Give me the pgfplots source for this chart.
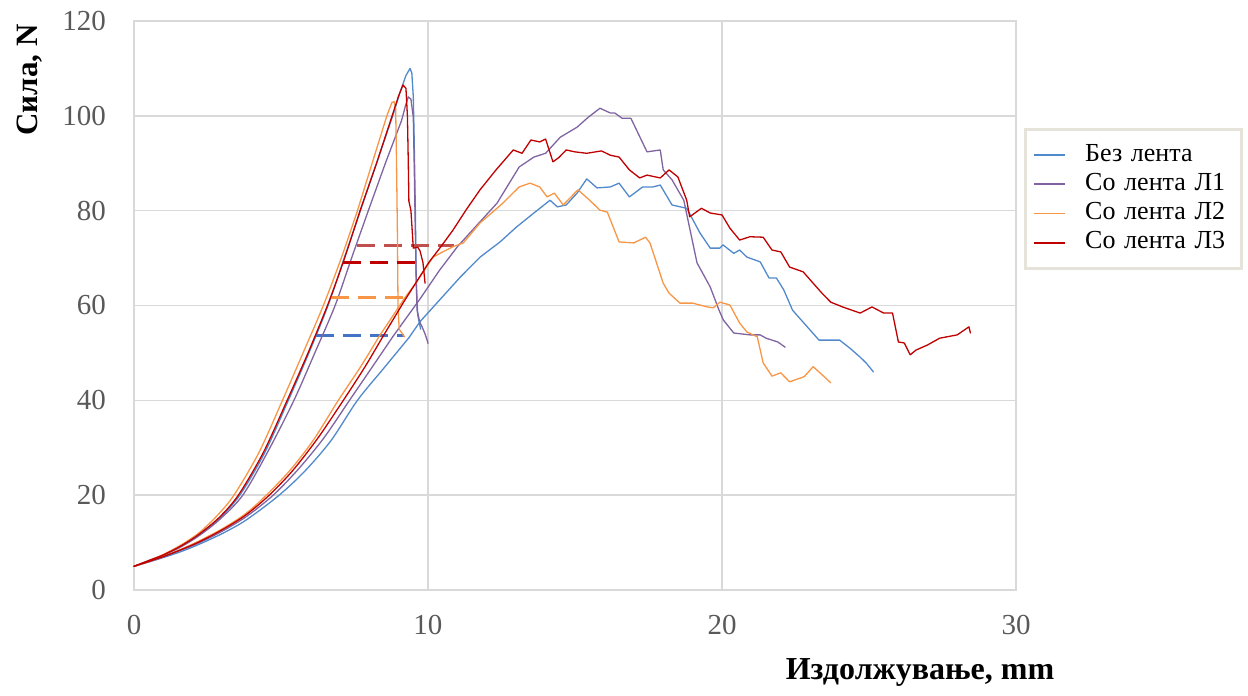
\documentclass[border=0pt]{standalone}
\usepackage{fontspec}
\setmainfont{Liberation Serif}
\usepackage{pgfplots}
\pgfplotsset{compat=1.18}
\definecolor{cblue}{HTML}{5089CC}
\definecolor{cbluedash}{HTML}{4472C4}
\definecolor{cpurple}{HTML}{8064A2}
\definecolor{corange}{HTML}{F79646}
\definecolor{cred}{HTML}{C00000}
\definecolor{cred2}{HTML}{C0504D}
\definecolor{gridgray}{HTML}{D9D9D9}
\definecolor{ticktext}{HTML}{595959}
\definecolor{legborder}{HTML}{E6E4DA}
\begin{document}
\begin{tikzpicture}
\useasboundingbox (0,0) rectangle (624pt,348pt);
\begin{axis}[at={(67pt,53pt)}, anchor=south west, scale only axis,
  width=441pt, height=284.5pt,
  xmin=0, xmax=30, ymin=0, ymax=120,
  xtick={0,10,20,30}, ytick={0,20,...,120},
  grid=major, major grid style={draw=gridgray, line width=0.7pt},
  axis line style={draw=gridgray, line width=0.7pt},
  tick style={draw=none}, major tick length=0pt,
  ticklabel style={font=\fontsize{14.5}{17}\selectfont, text=ticktext},
  /pgf/number format/assume math mode=true,
  yticklabel style={xshift=-10.5pt},
  xticklabel style={yshift=-9pt},
  every axis plot/.append style={line join=round, line cap=round},
  legend style={at={(1.009,0.812)}, anchor=north west, draw=legborder, line width=1.5pt,
    font=\fontsize{13}{15}\selectfont, inner xsep=4pt, inner ysep=5.5pt,
    row sep=0pt, /tikz/column 1/.style={column sep=9.5pt},
    nodes={inner xsep=0pt, inner ysep=1pt, text height=9.3pt, text depth=3.3pt, text width=74pt}},
  legend cell align=left,
  legend image code/.code={\draw[#1, line width=0.9pt, line cap=butt] (0pt,0pt) -- (15.5pt,0pt);},
  clip=false
]
% ---------- Без лента (blue) ----------
\addplot[cblue, line width=0.65pt, smooth] coordinates {
(0,5)(0.5,6.2)(1,7.4)(1.6,9.3)(2.2,11.6)(2.9,15.1)(3.6,20)(4.45,29)(5.25,40)(5.95,50)(6.6,60)(7.15,70)(7.7,80)};
\addlegendentry{Без лента}
\addplot[cblue, line width=0.65pt, forget plot] coordinates {
(7.7,80)(8.25,90)(8.8,100)(9.05,105)(9.25,108.5)(9.39,110)(9.45,109)(9.5,104)(9.53,95)(9.57,80)(9.6,65)(9.65,58)(9.75,55)};
\addplot[cblue, line width=0.65pt, smooth, forget plot] coordinates {
(0,5)(0.5,5.9)(1,6.85)(1.6,8.1)(2.2,9.6)(3,11.9)(3.8,14.7)(4.9,19.8)(5.8,25)(6.7,31.5)(7.6,40)(8.5,46.8)(9.35,53.2)};
\addplot[cblue, line width=0.65pt, forget plot] coordinates {
(9.35,53.2)(9.73,56.6)(10.4,61.2)(11.1,66)(11.77,70.2)(12.45,73.4)(13.0,76.5)(13.6,79.5)(14.15,82.2)(14.4,80.8)(14.7,81.2)(15.07,83.7)(15.4,86.7)(15.75,84.8)(16.2,85)(16.5,85.8)(16.85,82.9)(17.3,85)(17.65,85)(17.9,85.4)(18.3,81.2)(18.8,80.5)(19.25,75.3)(19.6,72.1)(19.93,72.1)(20.03,72.8)(20.4,71)(20.6,71.7)(20.85,70.2)(21.3,69.2)(21.6,65.8)(21.85,65.8)(22.1,63.3)(22.4,59)(22.9,55.5)(23.3,52.7)(24.0,52.7)(24.35,51)(24.7,49.1)(24.9,47.9)(25.15,46)};
\addplot[cbluedash, line width=1.3pt, line cap=butt, dash pattern=on 9pt off 4.5pt, forget plot] coordinates {(6.2,53.7)(9.2,53.7)};
% ---------- Со лента Л1 (purple) ----------
\addplot[cpurple, line width=0.65pt, smooth] coordinates {
(0,5)(0.5,6.1)(1,7.3)(1.6,9.1)(2.2,11.4)(2.9,14.8)(3.7,20)(4.58,29.5)(5.44,40)(6.15,50)(6.84,60)(7.4,70)(7.97,80)};
\addlegendentry{Со лента Л1}
\addplot[cpurple, line width=0.65pt, forget plot] coordinates {
(7.97,80)(8.55,90)(9.1,99)(9.25,102.5)(9.33,104)(9.42,103.5)(9.5,99.7)(9.53,90)(9.56,78.7)(9.6,65)(9.63,59)(9.72,56.5)(9.8,55.5)(9.9,54)(9.97,52.7)(10.0,52)};
\addplot[cpurple, line width=0.65pt, smooth, forget plot] coordinates {
(0,5)(0.5,5.95)(1,7.0)(1.6,8.4)(2.2,9.9)(3,12.4)(3.8,15.4)(4.7,19.8)(5.55,25.2)(6.45,32)(7.33,40)(8.1,47)(8.8,53.4)};
\addplot[cpurple, line width=0.65pt, forget plot] coordinates {
(8.8,53.4)(9.73,61.4)(10.4,67.5)(11.0,72.4)(11.6,76.5)(12.35,81.6)(13.1,89.2)(13.6,91.3)(14.0,92.1)(14.5,95.5)(15.07,97.6)(15.45,99.7)(15.85,101.6)(16.2,100.6)(16.35,100.6)(16.6,99.5)(16.9,99.5)(17.45,92.4)(17.9,92.8)(18.0,88.6)(18.3,86.5)(18.7,82.2)(19.15,69)(19.6,63.9)(19.9,59)(20.05,56.9)(20.4,54.2)(20.95,53.8)(21.3,53.8)(21.5,53.1)(21.9,52.3)(22.15,51.2)};
\addplot[cred2, line width=1.3pt, line cap=butt, dash pattern=on 9pt off 4.5pt, forget plot] coordinates {(7.58,72.6)(10.9,72.6)};
% ---------- Со лента Л2 (orange) ----------
\addplot[corange, line width=0.65pt, smooth] coordinates {
(0,5)(0.5,6.2)(1,7.5)(1.6,9.5)(2.2,12)(2.8,15.5)(3.4,20)(4.25,29)(5.05,40)(5.75,50)(6.44,60)(7.05,70)(7.6,80)};
\addlegendentry{Со лента Л2}
\addplot[corange, line width=0.65pt, forget plot] coordinates {
(7.6,80)(8.1,90)(8.6,100)(8.77,102.8)(8.85,103)(8.9,101.5)(8.93,90)(8.96,75)(8.98,60)(9.02,55)(9.2,53.4)};
\addplot[corange, line width=0.65pt, smooth, forget plot] coordinates {
(0,5)(0.5,6)(1,7.1)(1.6,8.6)(2.2,10.3)(3,12.9)(3.8,16.1)(4.5,20)(5.3,25.2)(6.1,31.6)(6.95,40)(7.7,47)(8.33,53.4)};
\addplot[corange, line width=0.65pt, forget plot] coordinates {
(8.33,53.4)(9.22,61.7)(9.56,64.5)(10.17,70.2)(10.5,71.3)(10.85,72.4)(11.2,73.2)(11.77,77.4)(12.55,81.6)(13.1,85)(13.47,85.8)(13.8,85)(14.05,82.9)(14.3,83.7)(14.6,81.2)(15.1,84.4)(15.5,82.2)(15.85,80.1)(16.1,79.7)(16.5,73.4)(17.0,73.2)(17.4,74.4)(17.55,73.2)(18.0,64.7)(18.2,62.6)(18.57,60.5)(19.0,60.5)(19.5,59.7)(19.7,59.5)(19.93,60.7)(20.27,60.1)(20.6,56.3)(20.85,54.4)(21.2,53.4)(21.4,47.9)(21.7,45.1)(22.0,45.8)(22.3,43.9)(22.8,45)(23.1,47.1)(23.35,45.7)(23.7,43.7)};
\addplot[corange, line width=1.3pt, line cap=butt, dash pattern=on 9pt off 4.5pt, forget plot] coordinates {(6.7,61.7)(9.22,61.7)};
% ---------- Со лента Л3 (red) ----------
\addplot[cred, line width=0.65pt, smooth] coordinates {
(0,5)(0.5,6.2)(1,7.4)(1.6,9.3)(2.2,11.7)(2.9,15.3)(3.55,20)(4.4,29)(5.21,40)(5.92,50)(6.58,60)(7.12,69.2)(7.69,80)};
\addlegendentry{Со лента Л3}
\addplot[cred, line width=0.65pt, forget plot] coordinates {
(7.69,80)(8.25,90)(8.78,100)(9.0,104.2)(9.15,106.5)(9.25,105.8)(9.3,100)(9.33,90)(9.35,82)(9.42,80)(9.5,72.1)(9.65,72.3)(9.73,71.5)(9.83,69)(9.9,64.7)};
\addplot[cred, line width=0.65pt, smooth, forget plot] coordinates {
(0,5)(0.5,6)(1,7.05)(1.6,8.5)(2.2,10.1)(3,12.7)(3.8,15.8)(4.6,20)(5.4,25.2)(6.25,32)(7.12,40)(7.85,47)(8.46,53.4)};
\addplot[cred, line width=0.65pt, forget plot] coordinates {
(8.46,53.4)(9.2,61)(10.03,69.1)(10.45,72.5)(10.85,75.9)(11.3,80.2)(11.77,84.4)(12.3,88.5)(12.9,92.8)(13.2,92.1)(13.5,94.9)(13.8,94.5)(14.0,95.1)(14.25,90.3)(14.45,91.2)(14.7,92.8)(15.0,92.4)(15.4,92.1)(15.9,92.6)(16.2,91.7)(16.5,91.3)(16.85,88.6)(17.2,86.9)(17.45,87.5)(17.9,86.9)(18.2,88.6)(18.5,87.1)(18.8,82.2)(18.9,78.7)(19.3,80.5)(19.6,79.5)(20.0,79.1)(20.27,76.3)(20.6,73.8)(20.95,74.5)(21.4,74.4)(21.7,71.7)(22.0,71.3)(22.3,68.1)(22.76,67.1)(23.1,64.7)(23.4,62.6)(23.7,60.7)(24.1,59.7)(24.7,58.4)(25.1,59.7)(25.5,58.4)(25.8,58.4)(26.0,52.3)(26.2,52.1)(26.4,49.6)(26.6,50.6)(27.0,51.7)(27.4,53.1)(28.0,53.8)(28.4,55.5)(28.45,54.2)};
\addplot[cred, line width=1.3pt, line cap=butt, dash pattern=on 9pt off 4.5pt, forget plot] coordinates {(7.1,69.1)(9.84,69.1)};
\end{axis}
\node[anchor=base, rotate=90, font=\fontsize{15.5}{18}\selectfont\bfseries] at (19pt,308pt) {Сила, N};
\node[anchor=base, font=\fontsize{16}{19}\selectfont\bfseries] at (460pt,8pt) {Издолжување, mm};
\end{tikzpicture}
\end{document}
